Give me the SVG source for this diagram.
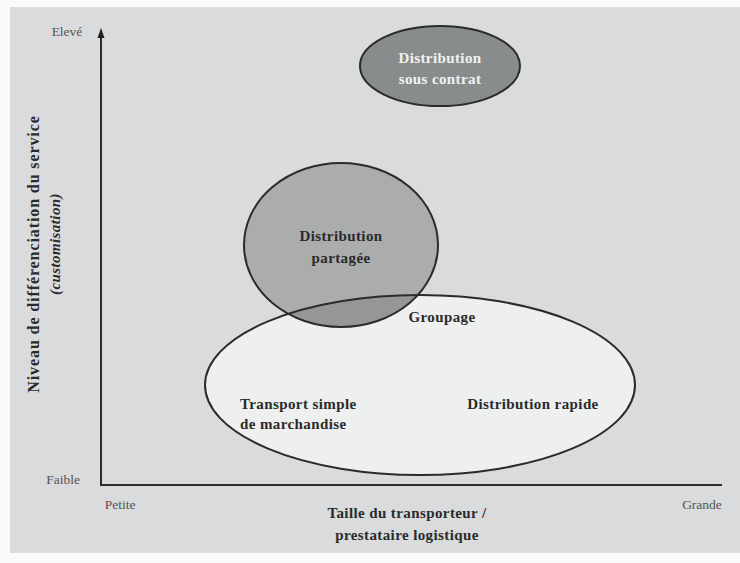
<svg xmlns="http://www.w3.org/2000/svg" width="740" height="563" viewBox="0 0 740 563">
<defs>
<style>
.t{font-family:"Liberation Serif","Times New Roman",serif;font-weight:bold;font-size:15px;letter-spacing:0.4px;fill:#2a2a2a}
.s{font-family:"Liberation Serif","Times New Roman",serif;font-size:13.5px;fill:#555}
.w{font-family:"Liberation Serif","Times New Roman",serif;font-weight:bold;font-size:15px;letter-spacing:0.4px;fill:#f2f2f2}
.ln{stroke:#2b2b2b;stroke-width:2;fill:none}
</style>
<clipPath id="cp"><ellipse cx="341" cy="245" rx="97" ry="82"/></clipPath>
</defs>
<rect width="740" height="563" fill="#fafafa"/>
<rect x="10" y="7" width="730" height="546" fill="#d9dbdc"/>
<g id="axes">
<line x1="101" y1="484" x2="101" y2="34" stroke="#2b2b2b" stroke-width="2"/>
<path d="M101,28 L97.5,38 L104.5,38 Z" fill="#222"/>
<line x1="100" y1="485" x2="722" y2="485" stroke="#2b2b2b" stroke-width="2"/>
<text class="s" x="67" y="36" text-anchor="middle">Elevé</text>
<text class="s" x="63" y="484" text-anchor="middle">Faible</text>
<text class="s" x="120" y="509" text-anchor="middle">Petite</text>
<text class="s" x="702" y="509" text-anchor="middle">Grande</text>
<text class="t" x="407" y="518" text-anchor="middle">Taille du transporteur /</text>
<text class="t" x="407" y="540" text-anchor="middle">prestataire logistique</text>
<text class="t" transform="translate(39,254) rotate(-90)" text-anchor="middle" style="font-size:16px;letter-spacing:0.9px">Niveau de différenciation du service</text>
<text class="t" transform="translate(60,244) rotate(-90)" text-anchor="middle" font-style="italic">(customisation)</text>
</g>
<g id="transport">
<ellipse cx="420" cy="385" rx="215" ry="90" fill="#eeefef"/>
</g>
<g id="partagee">
<ellipse cx="341" cy="245" rx="97" ry="82" fill="#abadad"/>
<ellipse cx="420" cy="385" rx="215" ry="90" fill="#959797" clip-path="url(#cp)"/>
<ellipse class="ln" cx="341" cy="245" rx="97" ry="82"/>
<text class="t" x="341" y="241" text-anchor="middle">Distribution</text>
<text class="t" x="341" y="263" text-anchor="middle">partagée</text>
</g>
<g id="transport-outline">
<ellipse class="ln" cx="420" cy="385" rx="215" ry="90"/>
<text class="t" x="442" y="322" text-anchor="middle">Groupage</text>
<text class="t" x="240" y="409">Transport simple</text>
<text class="t" x="240" y="429">de marchandise</text>
<text class="t" x="533" y="409" text-anchor="middle">Distribution rapide</text>
</g>
<g id="contrat">
<ellipse cx="440" cy="66" rx="80" ry="40" fill="#898c8c" stroke="#2b2b2b" stroke-width="2"/>
<text class="w" x="440" y="63" text-anchor="middle">Distribution</text>
<text class="w" x="440" y="84" text-anchor="middle">sous contrat</text>
</g>
<g id="connectors"></g>
</svg>
